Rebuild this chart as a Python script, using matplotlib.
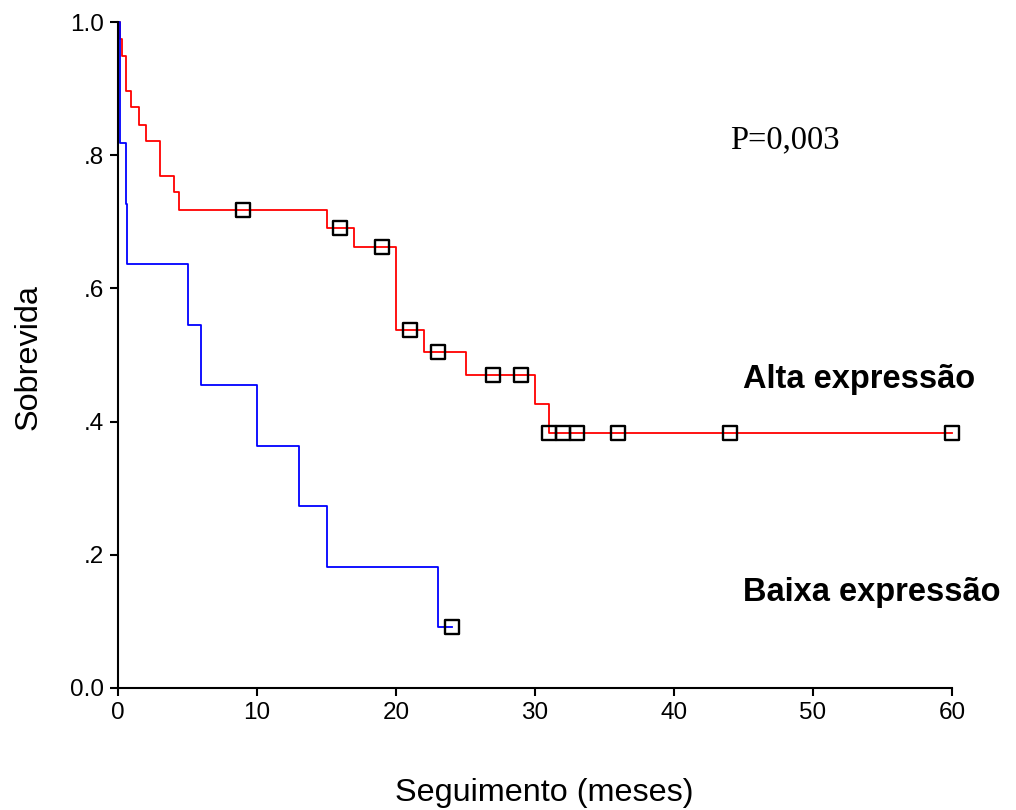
import numpy as np
import matplotlib
matplotlib.use("Agg")
import matplotlib.pyplot as plt
from matplotlib.markers import MarkerStyle

# Kaplan-Meier steps
alta_times = [0, 0.15, 0.3, 0.55, 0.95, 1.5, 2.0, 3.0, 4.0, 4.4, 15, 17, 20, 22, 25, 30, 31, 60]
alta_surv = [1.0, 0.974, 0.949, 0.897, 0.872, 0.846, 0.821, 0.769, 0.744, 0.718,
             0.691, 0.662, 0.538, 0.504, 0.470, 0.426, 0.383, 0.383]
alta_censor = [9, 16, 19, 21, 23, 27, 29, 31, 32, 33, 36, 44, 60]

baixa_times = [0, 0.15, 0.55, 0.65, 5, 6, 10, 13, 15, 23, 24]
baixa_surv = [1.0, 0.818, 0.727, 0.636, 0.545, 0.455, 0.364, 0.273, 0.182, 0.091, 0.091]
baixa_censor = [24]

yticks = [0.0, 0.2, 0.4, 0.6, 0.8, 1.0]
ytick_labels = ["0.0", ".2", ".4", ".6", ".8", "1.0"]
xticks = [0, 10, 20, 30, 40, 50, 60]

plt.rcParams["font.family"] = ["Liberation Sans", "DejaVu Sans"]


def surv_at(times, surv, t):
    # value of the step function at time t (right-continuous)
    idx = np.searchsorted(times, t, side="right") - 1
    return np.asarray(surv)[idx]


fig = plt.figure(figsize=(10.16, 8.10), dpi=100)
ax = fig.add_axes([118 / 1016, 122 / 810, 834 / 1016, 666 / 810])

box = MarkerStyle("s", fillstyle="none", joinstyle="round")

for times, surv, cens, col in [
    (alta_times, alta_surv, alta_censor, "#ff0000"),
    (baixa_times, baixa_surv, baixa_censor, "#0000ff"),
]:
    ax.step(times, surv, where="post", color=col, lw=1.3, clip_on=False, zorder=2)
    cy = [surv_at(times, surv, t) for t in cens]
    ax.plot(cens, cy, linestyle="none", marker=box, markersize=9.5,
            markeredgewidth=1.7, markeredgecolor="black", clip_on=False, zorder=3)

ax.set_xlim(0, 60)
ax.set_ylim(0, 1)
ax.set_xticks(xticks)
ax.set_yticks(yticks)
ax.set_yticklabels(ytick_labels)
ax.tick_params(labelsize=17.5, width=1.5, length=6, direction="out", pad=4)
for s in ["top", "right"]:
    ax.spines[s].set_visible(False)
for s in ["left", "bottom"]:
    ax.spines[s].set_linewidth(1.5)

ax.set_xlabel("Seguimento (meses)", fontsize=23.3, va="center")
ax.set_ylabel("Sobrevida", fontsize=23.3, va="center")
ax.xaxis.set_label_coords(0.511, -0.158)
ax.yaxis.set_label_coords(-0.1067, 0.497)

ax.text(44.0, 0.823, "P=0,003", fontsize=23.5, va="center",
        family=["Liberation Serif", "DejaVu Serif"])
ax.text(44.96, 0.4625, "Alta expressão", fontsize=23.5, fontweight="bold", va="center")
ax.text(44.96, 0.144, "Baixa expressão", fontsize=23.5, fontweight="bold", va="center",
        clip_on=False)

fig.savefig("out.png", dpi=100)
